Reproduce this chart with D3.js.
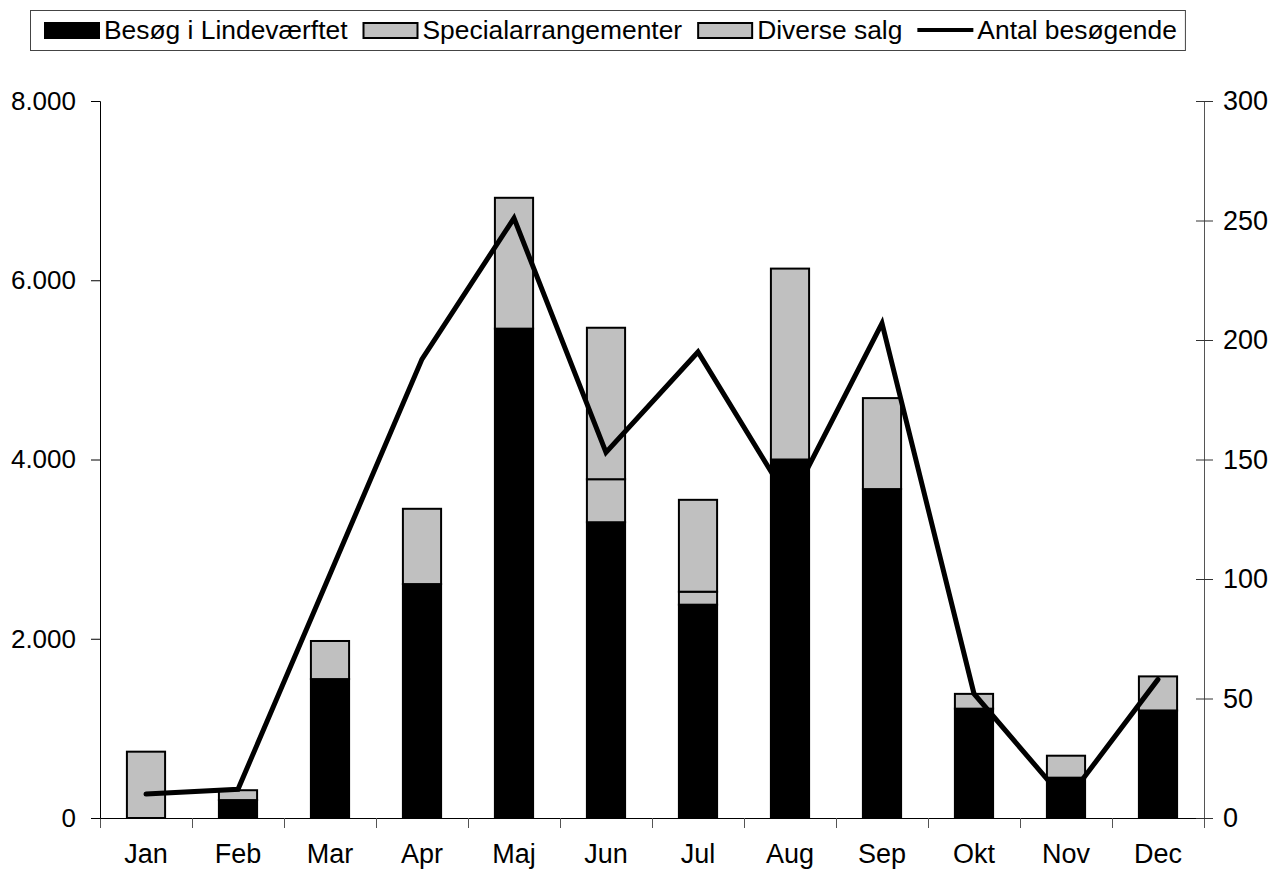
<!DOCTYPE html>
<html>
<head>
<meta charset="utf-8">
<script src="https://cdn.jsdelivr.net/npm/d3@7"></script>
<style>
  body { margin: 0; background: #fff; }
  text { font-family: "Liberation Sans", Arial, sans-serif; }
</style>
</head>
<body>
<div id="container"></div>
<script>
/* CONSTANTS AND GLOBALS */
const width = 1274,
  height = 870,
  margin = { top: 101, bottom: 52, left: 100, right: 70 };

/* DATA */
const months = ["Jan", "Feb", "Mar", "Apr", "Maj", "Jun", "Jul", "Aug", "Sep", "Okt", "Nov", "Dec"]
const besog = [0, 200, 1550, 2610, 5460, 3300, 2380, 4000, 3670, 1220, 450, 1200]
const special = [0, 0, 0, 0, 0, 480, 145, 0, 0, 0, 0, 0]
const diverse = [740, 110, 425, 840, 1460, 1690, 1025, 2130, 1015, 165, 245, 380]
const antal = [10, 12, 102, 192, 251, 153, 195, 132, 207, 52, 7, 58]
const leftTicks = [0, 2000, 4000, 6000, 8000]
const rightTicks = [0, 50, 100, 150, 200, 250, 300]

const keys = ["Besøg i Lindeværftet", "Specialarrangementer", "Diverse salg"]
const table = months.map((m, i) => ({
  month: m,
  "Besøg i Lindeværftet": besog[i],
  "Specialarrangementer": special[i],
  "Diverse salg": diverse[i]
}))
const stacked = d3.stack().keys(keys)(table)

/* SCALES */
const xScale = d3.scaleBand()
  .domain(months)
  .range([margin.left, width - margin.right])
  .padding(0)

const yScale = d3.scaleLinear()
  .domain([0, 8000])
  .range([height - margin.bottom, margin.top])

const y2Scale = d3.scaleLinear()
  .domain([0, 300])
  .range([height - margin.bottom, margin.top])

const colorScale = d3.scaleOrdinal()
  .domain(keys)
  .range(["#000000", "#c0c0c0", "#c0c0c0"])

const dk = d3.formatLocale({ decimal: ",", thousands: ".", grouping: [3], currency: ["", " kr"] })
const fmt = dk.format(",")

const bw = xScale.bandwidth()
const barW = bw * 0.415

/* HTML ELEMENTS */
const svg = d3.select("#container")
  .append("svg")
  .attr("width", width)
  .attr("height", height)

// bars
svg.append("g")
  .selectAll("g")
  .data(stacked)
  .join("g")
  .attr("fill", d => colorScale(d.key))
  .selectAll("rect")
  .data(d => d.filter(s => s[1] - s[0] > 0))
  .join("rect")
  .attr("x", d => xScale(d.data.month) + (bw - barW) / 2)
  .attr("y", d => yScale(d[1]))
  .attr("width", barW)
  .attr("height", d => yScale(d[0]) - yScale(d[1]))
  .attr("stroke", "#000")
  .attr("stroke-width", 2)

// x axis
const xAxis = svg.append("g")
  .attr("transform", `translate(0,${height - margin.bottom})`)
xAxis.append("line")
  .attr("x1", margin.left).attr("x2", width - margin.right)
  .attr("y1", 0.5).attr("y2", 0.5)
  .attr("stroke", "#000")
xAxis.selectAll(".xtick")
  .data(months.concat(["end"]))
  .join("line")
  .attr("class", "xtick")
  .attr("x1", (d, i) => Math.round(margin.left + i * bw) + 0.5)
  .attr("x2", (d, i) => Math.round(margin.left + i * bw) + 0.5)
  .attr("y1", 0).attr("y2", 10)
  .attr("stroke", "#555")
xAxis.selectAll(".xlabel")
  .data(months)
  .join("text")
  .attr("class", "xlabel")
  .attr("x", d => xScale(d) + bw / 2)
  .attr("y", 45)
  .attr("text-anchor", "middle")
  .attr("font-size", 27)
  .text(d => d)

// left y axis
const yAxis = svg.append("g")
  .attr("transform", `translate(${margin.left},0)`)
  .call(d3.axisLeft(yScale).tickValues(leftTicks).tickFormat(fmt).tickSize(9).tickPadding(15))
yAxis.select(".domain").attr("stroke", "#000")
yAxis.selectAll("text")
  .attr("font-size", 26)
  .attr("font-family", "Liberation Sans, Arial, sans-serif")
  .attr("fill", "#000")

// right y axis
const y2Axis = svg.append("g")
  .attr("transform", `translate(${width - margin.right},0)`)
  .call(d3.axisRight(y2Scale).tickValues(rightTicks).tickSize(0).tickPadding(19))
y2Axis.select(".domain").attr("stroke", "#555")
y2Axis.selectAll(".tick line")
  .attr("x1", -8).attr("x2", 9)
  .attr("stroke", "#333")
y2Axis.selectAll("text")
  .attr("font-size", 27)
  .attr("font-family", "Liberation Sans, Arial, sans-serif")
  .attr("fill", "#000")

// line
const line = d3.line()
  .x((d, i) => xScale(months[i]) + bw / 2)
  .y(d => y2Scale(d))

svg.append("path")
  .datum(antal)
  .attr("d", line)
  .attr("fill", "none")
  .attr("stroke", "#000")
  .attr("stroke-width", 5)
  .attr("stroke-linecap", "round")
  .attr("stroke-linejoin", "miter")

/* LEGEND */
const legend = svg.append("g")
const legendItems = keys.map(k => ({ name: k, type: "rect" }))
  .concat([{ name: "Antal besøgende", type: "line" }])

let lx = 44
const lyMid = 30
const box = legend.append("rect")
  .attr("x", 30.5).attr("y", 10.5)
  .attr("height", 40)
  .attr("fill", "#fff")
  .attr("stroke", "#444")

legendItems.forEach(item => {
  if (item.type === "rect") {
    legend.append("rect")
      .attr("x", lx + 1).attr("y", lyMid - 7)
      .attr("width", 54).attr("height", 15)
      .attr("fill", colorScale(item.name))
      .attr("stroke", "#000")
      .attr("stroke-width", 2)
  } else {
    legend.append("line")
      .attr("x1", lx).attr("x2", lx + 56)
      .attr("y1", lyMid).attr("y2", lyMid)
      .attr("stroke", "#000")
      .attr("stroke-width", 4)
  }
  const t = legend.append("text")
    .attr("x", lx + 60)
    .attr("y", lyMid + 9)
    .attr("font-size", 26.4)
    .text(item.name)
  lx = lx + 60 + t.node().getComputedTextLength() + 15
})
box.attr("width", lx - 15 + 8 - 30)
</script>
</body>
</html>
